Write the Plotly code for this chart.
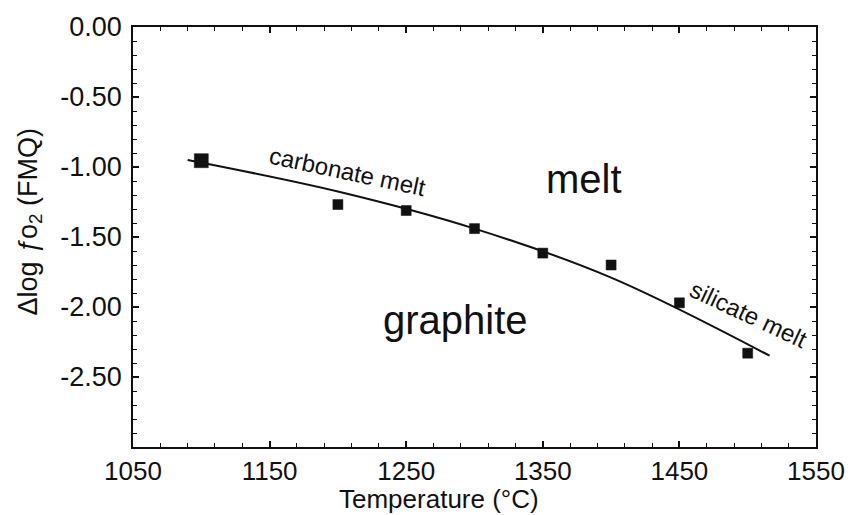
import plotly.graph_objects as go

# Experimental data (temperature °C, Δlog fO2 relative to FMQ)
temp_c = [1100, 1200, 1250, 1300, 1350, 1400, 1450, 1500]
dlog_fo2 = [-0.955, -1.268, -1.311, -1.44, -1.615, -1.70, -1.97, -2.33]

# Boundary curve
curve_t = [1090, 1200, 1300, 1400, 1516]
curve_f = [-0.95, -1.175, -1.44, -1.79, -2.348]

# Axis tick labels
x_ticks = [1050, 1150, 1250, 1350, 1450, 1550]
y_ticks = [0.0, -0.5, -1.0, -1.5, -2.0, -2.5]

FONT = "Liberation Sans, Arial, sans-serif"
INK = "#111111"

fig = go.Figure()
fig.add_trace(go.Scatter(
    x=curve_t, y=curve_f, mode="lines",
    line=dict(color=INK, width=2, shape="spline", smoothing=1.0),
    hoverinfo="skip", showlegend=False))
fig.add_trace(go.Scatter(
    x=temp_c, y=dlog_fo2, mode="markers",
    marker=dict(symbol="square", color=INK, opacity=1,
                size=[14] + [10] * (len(temp_c) - 1),
                line=dict(width=0.5, color=INK)),
    showlegend=False))

annots = [
    dict(text="melt", x=1380, y=-1.085, size=40, angle=0),
    dict(text="graphite", x=1286, y=-2.09, size=40, angle=0),
    dict(text="carbonate melt", x=1207, y=-1.03, size=24, angle=12),
    dict(text="silicate melt", x=1501, y=-2.05, size=24, angle=25),
]
for a in annots:
    fig.add_annotation(x=a["x"], y=a["y"], text=a["text"], showarrow=False,
                       textangle=a["angle"], xanchor="center", yanchor="middle",
                       font=dict(family=FONT, size=a["size"], color=INK))

# axis titles placed as in the reference
fig.add_annotation(xref="paper", yref="paper", x=(441 - 133) / 687,
                   y=-(515 - 447) / 420,
                   text="Temperature (°C)", showarrow=False, borderpad=0,
                   xanchor="center", yanchor="bottom",
                   font=dict(family=FONT, size=26, color=INK))
fig.add_annotation(xref="paper", yref="paper", x=(29 - 133) / 687,
                   y=(447 - 222) / 420,
                   text="Δlog <i>ƒ</i>o<sub>2</sub> (FMQ)", showarrow=False,
                   textangle=-90, xanchor="center", yanchor="middle",
                   font=dict(family=FONT, size=27, color=INK))

axis_common = dict(showgrid=False, zeroline=False, showline=True,
                   linecolor=INK, linewidth=1.5, mirror="ticks",
                   ticks="inside", ticklen=6, tickwidth=1.5, tickcolor=INK)

fig.update_xaxes(range=[1050, 1550], tickmode="array", tickvals=x_ticks,
                 ticktext=[str(v) for v in x_ticks], ticklabelstandoff=0,
                 tickfont=dict(family=FONT, size=26, color=INK),
                 minor=dict(tickmode="linear", tick0=1050, dtick=20,
                            ticks="inside", ticklen=4, tickwidth=1.2,
                            tickcolor=INK),
                 **axis_common)
fig.update_yaxes(range=[-3, 0], tickmode="array", tickvals=y_ticks,
                 ticktext=[f"{v:.2f}" for v in y_ticks], ticklabelstandoff=4,
                 tickfont=dict(family=FONT, size=27, color=INK),
                 minor=dict(tickmode="linear", tick0=0, dtick=0.1,
                            ticks="inside", ticklen=4, tickwidth=1.2,
                            tickcolor=INK),
                 **axis_common)

fig.update_layout(width=857, height=515,
                  margin=dict(l=133, r=37, t=27, b=68),
                  paper_bgcolor="white", plot_bgcolor="white",
                  showlegend=False)

fig.write_html("out.html")
